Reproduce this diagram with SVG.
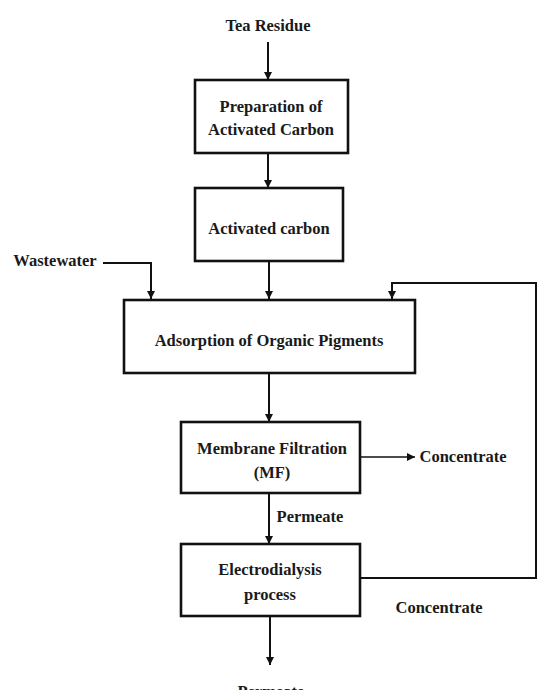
<svg xmlns="http://www.w3.org/2000/svg" width="537" height="690" viewBox="0 0 537 690">
<style>
text{font-family:"Liberation Serif","Tinos","Times New Roman","DejaVu Serif",serif;font-weight:700;font-size:16.5px;fill:#1a1a1a;text-anchor:middle}
.box{fill:#fff;stroke:#111;stroke-width:2.6}
.ln{fill:none;stroke:#111;stroke-width:2}
.thin{fill:none;stroke:#111;stroke-width:1.3}
</style>
<defs>
<marker id="ah" markerUnits="userSpaceOnUse" markerWidth="10" markerHeight="10" refX="8" refY="4" orient="auto">
<path d="M0,0 L8,4 L0,8 Z" fill="#111"/>
</marker>
</defs>
<rect width="537" height="690" fill="#fff"/>
<g id="connectors">
<line class="ln" x1="268" y1="42" x2="268" y2="80" marker-end="url(#ah)"/>
<line class="ln" x1="268" y1="153" x2="268" y2="188" marker-end="url(#ah)"/>
<polyline class="ln" points="103,263 151,263 151,299" marker-end="url(#ah)"/>
<line class="ln" x1="269" y1="261" x2="269" y2="299" marker-end="url(#ah)"/>
<polyline class="ln" points="536,283 392,283 392,299" marker-end="url(#ah)"/>
<line class="ln" x1="536" y1="282" x2="536" y2="579"/>
<line class="ln" x1="269" y1="373" x2="269" y2="422" marker-end="url(#ah)"/>
<line class="thin" x1="360" y1="457" x2="415" y2="457" marker-end="url(#ah)"/>
<line class="ln" x1="269" y1="493" x2="269" y2="544" marker-end="url(#ah)"/>
<line class="ln" x1="360" y1="578" x2="537" y2="578"/>
<line class="ln" x1="270" y1="616" x2="270" y2="665" marker-end="url(#ah)"/>
</g>
<g id="tea-residue"><text x="268" y="31">Tea Residue</text></g>
<g id="preparation">
<rect class="box" x="195" y="80" width="153" height="73"/>
<text x="271" y="112">Preparation of</text>
<text x="271" y="135">Activated Carbon</text>
</g>
<g id="activated-carbon">
<rect class="box" x="195" y="188" width="148" height="73"/>
<text x="269" y="234">Activated carbon</text>
</g>
<g id="wastewater"><text x="55" y="266">Wastewater</text></g>
<g id="adsorption">
<rect class="box" x="124" y="300" width="291" height="73"/>
<text x="269" y="346">Adsorption of Organic Pigments</text>
</g>
<g id="mf">
<rect class="box" x="181" y="422" width="179" height="71"/>
<text x="272" y="454">Membrane Filtration</text>
<text x="272" y="478">(MF)</text>
</g>
<g id="concentrate-mf"><text x="463" y="462">Concentrate</text></g>
<g id="permeate-mid"><text x="310" y="522">Permeate</text></g>
<g id="ed">
<rect class="box" x="181" y="544" width="179" height="72"/>
<text x="270" y="575">Electrodialysis</text>
<text x="270" y="600">process</text>
</g>
<g id="concentrate-ed"><text x="439" y="613">Concentrate</text></g>
<g id="permeate-out"><text x="271" y="697">Permeate</text></g>
</svg>
